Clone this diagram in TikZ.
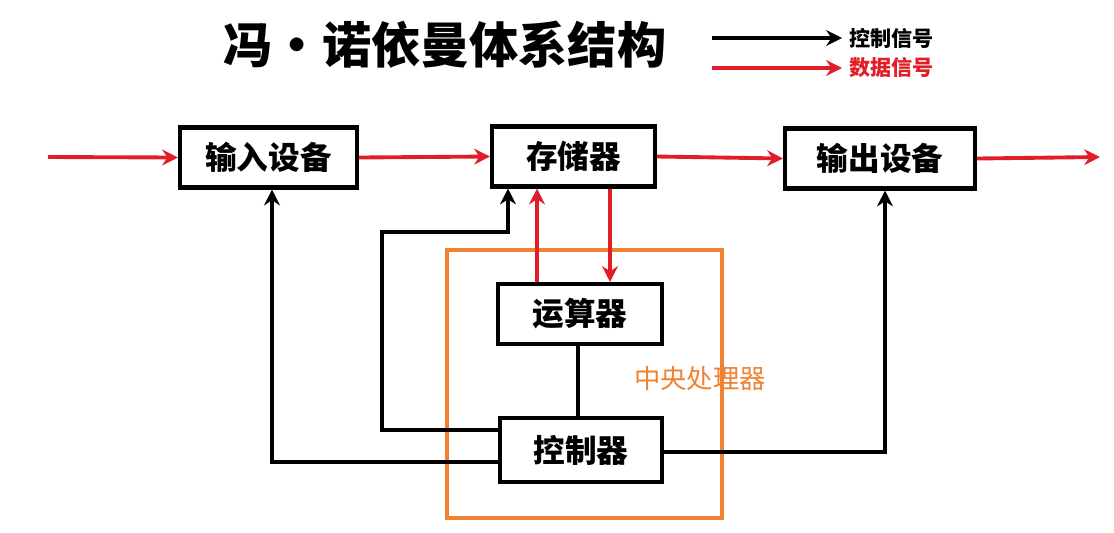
\documentclass[tikz,border=0pt]{standalone}
\usepackage{fontspec}
\setmainfont{Noto Sans CJK SC}
\usetikzlibrary{arrows.meta}
\definecolor{dred}{RGB}{225,30,40}
\definecolor{org}{RGB}{240,130,50}
\begin{document}
\begin{tikzpicture}[x=0.02cm,y=-0.02cm,
 box/.style={draw,line width=2.3pt,minimum height=1.2cm,font=\fontsize{18pt}{20pt}\selectfont\bfseries,inner sep=0pt},
 ctl/.style={line width=2.2pt,-{Stealth[length=9pt,width=9pt]}},
 dat/.style={line width=2.2pt,dred,-{Stealth[length=9pt,width=9pt]}}]
\useasboundingbox (0,0) rectangle (1114,532);
\node[font=\fontsize{28pt}{32pt}\selectfont\bfseries] (title) at (445,45) {冯·诺依曼体系结构};
\coordinate (l1a) at (712,38); \coordinate (l1b) at (842,38);
\coordinate (l2a) at (712,68); \coordinate (l2b) at (842,68);
\draw[ctl] (l1a)--(l1b);
\draw[dat] (l2a)--(l2b);
\node[anchor=west,font=\fontsize{12pt}{13pt}\selectfont\bfseries] (lt1) at (843,38) {控制信号};
\node[anchor=west,font=\fontsize{12pt}{13pt}\selectfont\bfseries,text=dred] (lt2) at (843,68) {数据信号};
\draw[org,line width=1.8pt] (447,250) rectangle (722,518);
\node[text=org,font=\fontsize{15pt}{16pt}\selectfont] (cpu) at (700,378) {中央处理器};
\node[box,minimum width=3.54cm] (in) at (268.5,157.5) {输入设备};
\node[box,minimum width=3.26cm] (mem) at (573.5,156.5) {存储器};
\node[box,minimum width=3.8cm] (out) at (880,158.5) {输出设备};
\node[box,minimum width=3.28cm] (alu) at (580,314) {运算器};
\node[box,minimum width=3.24cm,minimum height=1.28cm] (cu) at (581,450) {控制器};
\coordinate (src) at (48,157); \coordinate (dst) at (1100,157);
\draw[dat] (src)--(in.west);
\draw[dat] (in.east)--(mem.west);
\draw[dat] (mem.east)--(out.west);
\draw[dat] (out.east)--(dst);
\draw[dat] (alu.north -| 537,0)--(mem.south -| 537,0);
\draw[dat] (mem.south -| 610,0)--(alu.north -| 610,0);
\draw[line width=2.2pt] (alu.south -| 578,0)--(cu.north -| 578,0);
\draw[ctl] (cu.west |- 0,430)--(382,430)--(382,232)--(508,232)--(mem.south -| 508,0);
\draw[ctl] (cu.west |- 0,462)--(272,462)--(in.south -| 272,0);
\draw[ctl] (cu.east |- 0,452)--(885,452)--(out.south -| 885,0);
\end{tikzpicture}
\end{document}
